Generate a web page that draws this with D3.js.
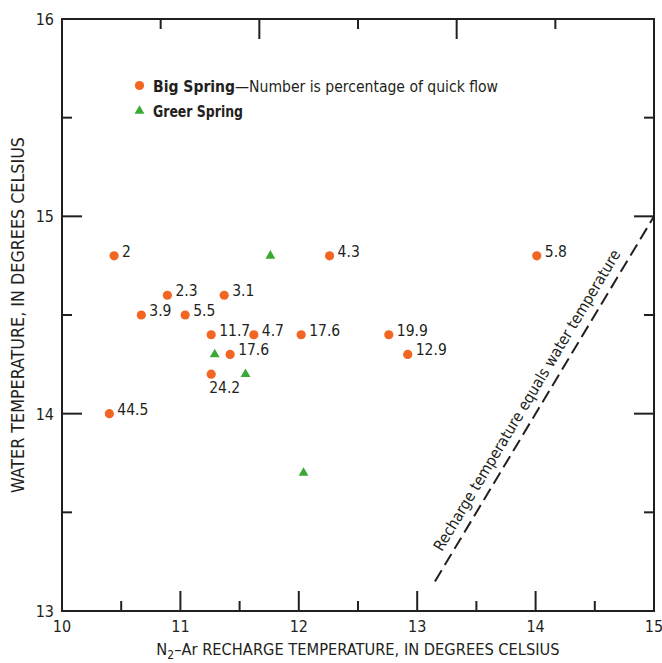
<!DOCTYPE html>
<html lang="en">

<head>
    <meta charset="UTF-8">
    <title>Water temperature vs recharge temperature</title>
</head>

<style>
    body,
    html {
        margin: 0;
        padding: 0;
        background: #fff;
    }

    svg text {
        font-family: "Liberation Sans Narrow", "DejaVu Sans Condensed", sans-serif;
        fill: #231f20;
    }
</style>

<body>
    <svg id="svg" width="662" height="663"></svg>

    <script src="https://d3js.org/d3.v7.min.js"></script>
    <script>
        // Big Spring samples: recharge temp, water temp, percentage of quick flow
        const bigX = [10.44, 12.26, 14.01, 10.89, 11.37, 10.67, 11.04, 11.26, 11.62, 12.02, 12.76, 11.42, 12.92, 11.26, 10.40];
        const bigY = [14.8, 14.8, 14.8, 14.6, 14.6, 14.5, 14.5, 14.4, 14.4, 14.4, 14.4, 14.3, 14.3, 14.2, 14.0];
        const bigLabels = ["2", "4.3", "5.8", "2.3", "3.1", "3.9", "5.5", "11.7", "4.7", "17.6", "19.9", "17.6", "12.9", "24.2", "44.5"];
        const labelsBelow = ["24.2"];

        // Greer Spring samples
        const greerX = [11.76, 11.29, 11.55, 12.04];
        const greerY = [14.8, 14.3, 14.2, 13.7];

        // axis ticks
        const xMajor = [10, 11, 12, 13, 14, 15];
        const xMinor = [10.5, 11.5, 12.5, 13.5, 14.5];
        const yMajor = [13, 14, 15, 16];
        const yMinor = [13.5, 14.5, 15.5];
        // top edge ticks repeat the vertical axis spacing
        const topMajor = [14, 15];
        const topMinor = [13.5, 14.5, 15.5];

        // 1:1 line end points
        const equalLine = [13.15, 15];

        const margin = { top: 19, right: 8, bottom: 52, left: 62 };
        const width = 662 - margin.left - margin.right;
        const height = 663 - margin.top - margin.bottom;
        const x0 = margin.left, x1 = margin.left + width;
        const y0 = margin.top, y1 = margin.top + height;

        const orange = "#f26522";
        const green = "#3aaa35";
        const ink = "#231f20";

        const xscale = d3.scaleLinear().domain([10, 15]).range([x0, x1]);
        const yscale = d3.scaleLinear().domain([13, 16]).range([y1, y0]);
        const topscale = d3.scaleLinear().domain([13, 16]).range([x0, x1]);

        const svg = d3.select('#svg');
        const ticks = svg.append('g').attr('stroke', ink).attr('stroke-width', 2);

        // vertical ticks along a horizontal edge
        function hTicks(values, scale, yEdge, len) {
            ticks.append('g')
                .selectAll('line')
                .data(values)
                .join('line')
                .attr('x1', d => scale(d))
                .attr('x2', d => scale(d))
                .attr('y1', yEdge)
                .attr('y2', yEdge + len);
        }

        // horizontal ticks along a vertical edge
        function vTicks(values, scale, xEdge, len) {
            ticks.append('g')
                .selectAll('line')
                .data(values)
                .join('line')
                .attr('y1', d => scale(d))
                .attr('y2', d => scale(d))
                .attr('x1', xEdge)
                .attr('x2', xEdge + len);
        }

        hTicks(xMajor, xscale, y1, -20);
        hTicks(xMinor, xscale, y1, -10);
        hTicks(topMajor, topscale, y0, 20);
        hTicks(topMinor, topscale, y0, 10);
        vTicks(yMajor, yscale, x0, 20);
        vTicks(yMinor, yscale, x0, 10);
        vTicks(yMajor, yscale, x1, -20);
        vTicks(yMinor, yscale, x1, -10);

        // frame
        svg.append('rect')
            .attr('x', x0)
            .attr('y', y0)
            .attr('width', width)
            .attr('height', height)
            .attr('fill', 'none')
            .attr('stroke', ink)
            .attr('stroke-width', 2);

        // tick labels
        svg.append('g')
            .selectAll('text')
            .data(xMajor)
            .join('text')
            .attr('x', d => xscale(d))
            .attr('y', y1 + 21)
            .attr('text-anchor', 'middle')
            .attr('font-size', 16)
            .text(d => d);

        svg.append('g')
            .selectAll('text')
            .data(yMajor)
            .join('text')
            .attr('x', x0 - 8)
            .attr('y', d => yscale(d) + 6)
            .attr('text-anchor', 'end')
            .attr('font-size', 16)
            .text(d => d);

        // recharge temperature equals water temperature
        svg.append('line')
            .attr('x1', xscale(equalLine[0]))
            .attr('y1', yscale(equalLine[0]))
            .attr('x2', xscale(equalLine[1]))
            .attr('y2', yscale(equalLine[1]))
            .attr('stroke', ink)
            .attr('stroke-width', 2)
            .attr('stroke-dasharray', '13,6');

        const angle = Math.atan2(yscale(15) - yscale(13), xscale(15) - xscale(13)) * 180 / Math.PI;
        svg.append('text')
            .attr('transform', `translate(${xscale(14.03)}, ${yscale(14.03)}) rotate(${angle})`)
            .attr('dy', -9)
            .attr('text-anchor', 'middle')
            .attr('font-size', 15.5)
            .attr('textLength', 348)
            .attr('lengthAdjust', 'spacingAndGlyphs')
            .text('Recharge temperature equals water temperature');

        // Big Spring points
        const big = bigX.map((x, i) => ({ x: x, y: bigY[i], label: bigLabels[i] }));

        svg.append('g')
            .selectAll('circle')
            .data(big)
            .join('circle')
            .attr('cx', d => xscale(d.x))
            .attr('cy', d => yscale(d.y))
            .attr('r', 4.6)
            .attr('fill', orange);

        svg.append('g')
            .selectAll('text')
            .data(big)
            .join('text')
            .attr('x', d => labelsBelow.includes(d.label) ? xscale(d.x) - 2 : xscale(d.x) + 8)
            .attr('y', d => labelsBelow.includes(d.label) ? yscale(d.y) + 19 : yscale(d.y) + 1)
            .attr('font-size', 15.5)
            .text(d => d.label);

        // Greer Spring points
        const tri = d3.symbol().type(d3.symbolTriangle).size(42);
        svg.append('g')
            .selectAll('path')
            .data(greerX.map((x, i) => ({ x: x, y: greerY[i] })))
            .join('path')
            .attr('transform', d => `translate(${xscale(d.x)}, ${yscale(d.y)})`)
            .attr('d', tri)
            .attr('fill', green);

        // legend
        svg.append('circle')
            .attr('cx', 139.5)
            .attr('cy', 85.5)
            .attr('r', 4.6)
            .attr('fill', orange);

        const leg1 = svg.append('text')
            .attr('x', 153)
            .attr('y', 92)
            .attr('font-size', 16)
            .attr('textLength', 345)
            .attr('lengthAdjust', 'spacingAndGlyphs');
        leg1.append('tspan').attr('font-weight', 'bold').text('Big Spring');
        leg1.append('tspan').text('\u2014Number is percentage of quick flow');

        svg.append('path')
            .attr('transform', 'translate(139.5, 111)')
            .attr('d', tri)
            .attr('fill', green);

        svg.append('text')
            .attr('x', 153)
            .attr('y', 117)
            .attr('font-size', 16)
            .attr('font-weight', 'bold')
            .attr('textLength', 90)
            .attr('lengthAdjust', 'spacingAndGlyphs')
            .text('Greer Spring');

        // x-axis label
        const xlab = svg.append('text')
            .attr('x', x0 + width / 2)
            .attr('y', 655)
            .attr('text-anchor', 'middle')
            .attr('font-size', 16.3);
        xlab.append('tspan').text('N');
        xlab.append('tspan').attr('dy', 4).attr('font-size', 12).text('2');
        xlab.append('tspan').attr('dy', -4).text('\u2013Ar RECHARGE TEMPERATURE, IN DEGREES CELSIUS');

        // y-axis label
        svg.append('text')
            .attr('transform', 'rotate(-90)')
            .attr('x', -(y0 + height / 2))
            .attr('y', 24)
            .attr('text-anchor', 'middle')
            .attr('font-size', 17)
            .attr('textLength', 356)
            .attr('lengthAdjust', 'spacingAndGlyphs')
            .text('WATER TEMPERATURE, IN DEGREES CELSIUS');
    </script>
</body>

</html>
